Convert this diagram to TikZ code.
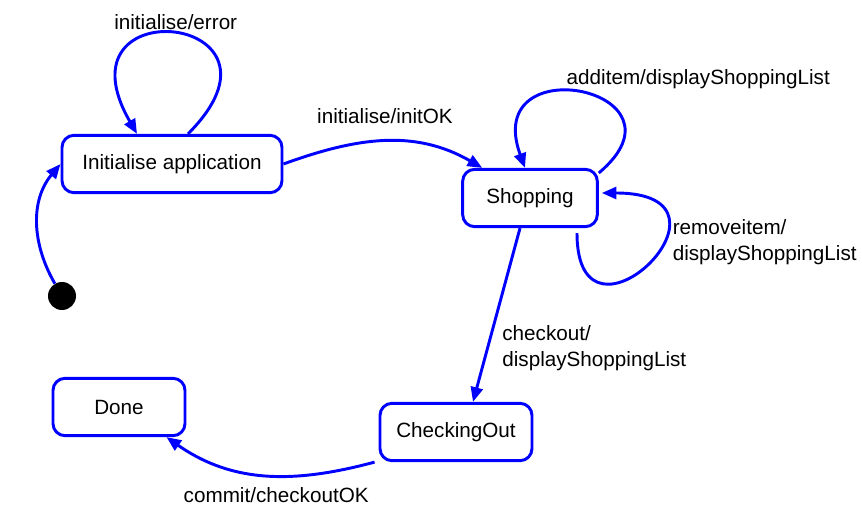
\documentclass[tikz,border=0pt]{standalone}
\usepackage{fontspec}
\setmainfont{Liberation Sans}
\usetikzlibrary{arrows.meta,calc}

\tikzset{
  state/.style={draw=blue, line width=2.2pt, rounded corners=9pt, minimum height=43pt, inner sep=0pt},
  trans/.style={draw=blue, line width=2.2pt, -{Triangle[length=11pt,width=9pt]}},
  lbl/.style={inner sep=2pt, align=left},
}

\begin{document}
\begin{tikzpicture}[x=0.75pt,y=0.75pt, every node/.style={font=\fontsize{15.5pt}{20pt}\selectfont}]
    \useasboundingbox (0,0) rectangle (862,-509);

    % states
    \node[state, minimum width=165pt] (init) at (172,-164) {Initialise application};
    \node[state, minimum width=101pt] (shop) at (530,-198) {Shopping};
    \node[state, minimum width=114pt] (check) at (456,-432) {CheckingOut};
    \node[state, minimum width=99pt] (done) at (119,-407) {Done};
    \node[circle, fill=black, minimum size=21pt, inner sep=0pt] (start) at (62,-296) {};

    % initial
    \draw[trans] (start) to[out=120,in=-130] (init.west);

    % self loops
    \draw[trans] ($(init.north)+(16,0)$) .. controls +(45:170) and +(120:170) ..
        node[lbl, above] {initialise/error} ($(init.north)+(-35,0)$);
    \draw[trans] (shop.20) .. controls +(40:130) and +(110:130) ..
        node[lbl, pos=0.5, anchor=south west, xshift=-15pt] {additem/displayShoppingList} ($(shop.north)+(-5,0)$);
    \draw[trans] ($(shop.south)+(47,-5)$) .. controls +(-90:135) and +(0:155) ..
        node[lbl, pos=0.75, anchor=west, xshift=4pt, yshift=-18pt] {removeitem/\\displayShoppingList} ($(shop.east)+(3,5)$);

    % transitions
    \draw[trans] (init.east) to[out=20,in=150]
        node[lbl, above=10pt] {initialise/initOK} ($(shop.north west)+(21,0)$);
    \draw[trans] ($(shop.south)+(-10,0)$) --
        node[lbl, pos=0.69, anchor=west, xshift=8pt] {checkout/\\displayShoppingList} ($(check.north)+(17,0)$);
    \draw[trans] ($(check.south west)+(-4,0)$) to[out=195,in=-35]
        node[lbl, pos=0.45, below=6pt] {commit/checkoutOK} ($(done.south east)+(-20,0)$);

\end{tikzpicture}
\end{document}
